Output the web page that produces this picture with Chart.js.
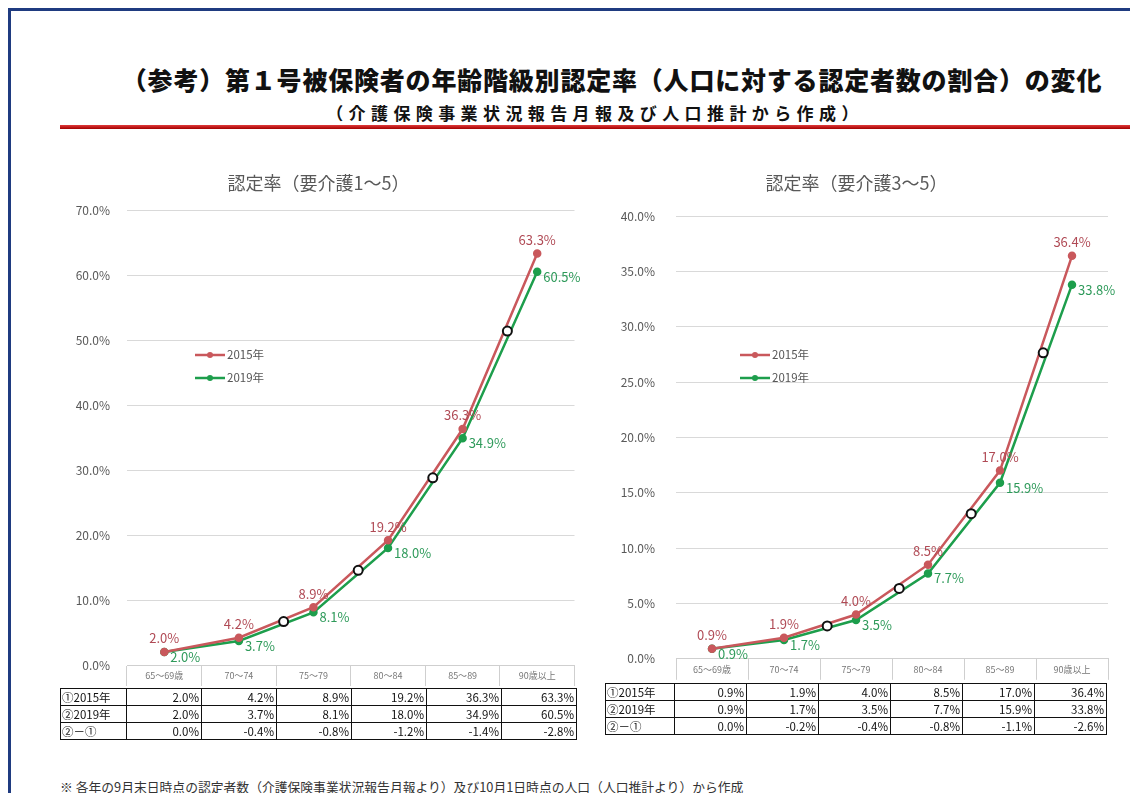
<!DOCTYPE html>
<html lang="ja">
<head>
<meta charset="utf-8">
<script src="https://cdn.jsdelivr.net/npm/chart.js@4.4.1/dist/chart.umd.min.js"></script>
<style>
  body { margin: 0; width: 1130px; height: 793px; background: #fff; position: relative; overflow: hidden;
         font-family: "Noto Sans CJK JP", sans-serif; }
  .frame { position: absolute; left: 8px; top: 8px; width: 1300px; height: 900px;
           border-left: 3px solid #1f3b80; border-top: 3px solid #1f3b80; }
  .title { position: absolute; left: 0; width: 1224px; top: 61px; text-align: center;
           font-size: 25px; font-weight: 900; color: #111; white-space: nowrap; letter-spacing: 0.8px; }
  .subtitle { position: absolute; left: 0; width: 1190px; top: 100px; text-align: center;
              font-size: 17px; font-weight: bold; color: #111; letter-spacing: 5.4px; white-space: nowrap; }
  .redline { position: absolute; left: 60px; top: 125px; width: 1080px; height: 4px;
             background: linear-gradient(#e03a3a, #a30000); }
  .box { position: absolute; }
  table.data { position: absolute; border-collapse: collapse; font-size: 11.5px; color: #111; }
  table.data td { border: 1.5px solid #111; height: 16px; padding: 0 2px; text-align: right; line-height: 16px; }
  table.data td.lab { text-align: left; padding-left: 1px; }
  .note { position: absolute; left: 60px; top: 777px; font-size: 12.8px; color: #333; white-space: nowrap; }
</style>
</head>
<body>
<div class="frame"></div>
<div class="title">（参考）第１号被保険者の年齢階級別認定率（人口に対する認定者数の割合）の変化</div>
<div class="subtitle">（介護保険事業状況報告月報及び人口推計から作成）</div>
<div class="redline"></div>

<div class="box" style="left:60px; top:160px; width:520px; height:530px;"><canvas id="chartAll"></canvas></div>
<div class="box" style="left:605px; top:160px; width:525px; height:527px;"><canvas id="chartSevere"></canvas></div>

<table class="data" id="tableAll" style="left:60px; top:688px;"></table>
<table class="data" id="tableSevere" style="left:605px; top:683px;"></table>

<div class="note">※ 各年の9月末日時点の認定者数（介護保険事業状況報告月報より）及び10月1日時点の人口（人口推計より）から作成</div>

<script>
const ageGroups = ['65～69歳', '70～74', '75～79', '80～84', '85～89', '90歳以上'];
const seriesNames = ['2015年', '2019年'];
const rowLabels = ['①2015年', '②2019年', '②－①'];

// 要介護1～5
const all2015 = [2.0, 4.2, 8.9, 19.2, 36.3, 63.3];
const all2019 = [2.0, 3.7, 8.1, 18.0, 34.9, 60.5];
const allDiff = [0.0, -0.4, -0.8, -1.2, -1.4, -2.8];
const allTicks = [0, 10, 20, 30, 40, 50, 60, 70];

// 要介護3～5
const severe2015 = [0.9, 1.9, 4.0, 8.5, 17.0, 36.4];
const severe2019 = [0.9, 1.7, 3.5, 7.7, 15.9, 33.8];
const severeDiff = [0.0, -0.2, -0.4, -0.8, -1.1, -2.6];
const severeTicks = [0, 5, 10, 15, 20, 25, 30, 35, 40];

const FONT = '"Noto Sans CJK JP", sans-serif';
const RED = '#c9585c';
const GREEN = '#1d9e4c';

const valueLabels = {
    id: 'valueLabels',
    afterDatasetsDraw(chart) {
        const ctx = chart.ctx;
        ctx.save();
        ctx.font = '13px ' + FONT;
        chart.data.datasets.forEach((ds, di) => {
            chart.getDatasetMeta(di).data.forEach((pt, i) => {
                const txt = ds.data[i].toFixed(1) + '%';
                ctx.fillStyle = ds.labelColor;
                if (di === 0) {
                    ctx.textAlign = 'center';
                    ctx.textBaseline = 'bottom';
                    ctx.fillText(txt, pt.x, pt.y - 7);
                } else {
                    ctx.textAlign = 'left';
                    ctx.textBaseline = 'middle';
                    ctx.fillText(txt, pt.x + 6, pt.y + 5);
                }
            });
        });
        ctx.restore();
    }
};

// white markers between the two lines
const gapMarkers = {
    id: 'gapMarkers',
    afterDatasetsDraw(chart) {
        const a = chart.getDatasetMeta(0).data;
        const b = chart.getDatasetMeta(1).data;
        const ctx = chart.ctx;
        ctx.save();
        for (let i = 1; i < a.length - 1; i++) {
            const t = 0.6;
            const x0 = (a[i].x + b[i].x) / 2, y0 = (a[i].y + b[i].y) / 2;
            const x1 = (a[i + 1].x + b[i + 1].x) / 2, y1 = (a[i + 1].y + b[i + 1].y) / 2;
            ctx.beginPath();
            ctx.arc(x0 + (x1 - x0) * t, y0 + (y1 - y0) * t, 4.5, 0, Math.PI * 2);
            ctx.fillStyle = '#fff';
            ctx.fill();
            ctx.lineWidth = 2;
            ctx.strokeStyle = '#111';
            ctx.stroke();
        }
        ctx.restore();
    }
};

const inlineLegend = {
    id: 'inlineLegend',
    afterDraw(chart, args, opts) {
        const ctx = chart.ctx;
        const area = chart.chartArea;
        ctx.save();
        ctx.font = '11.5px ' + FONT;
        ctx.textBaseline = 'middle';
        ctx.textAlign = 'left';
        chart.data.datasets.forEach((ds, di) => {
            const x = area.left + opts.dx;
            const y = area.top + opts.dy + di * 23;
            ctx.strokeStyle = ds.borderColor;
            ctx.lineWidth = 2.5;
            ctx.beginPath();
            ctx.moveTo(x, y);
            ctx.lineTo(x + 30, y);
            ctx.stroke();
            ctx.fillStyle = ds.borderColor;
            ctx.beginPath();
            ctx.arc(x + 15, y, 3, 0, Math.PI * 2);
            ctx.fill();
            ctx.fillStyle = '#555';
            ctx.fillText(ds.label, x + 32, y);
        });
        ctx.restore();
    }
};

function makeChart(id, title, s2015, s2019, ticks, yWidth, tickPad, titlePadBottom, padRight, legendPos) {
    const ctx = document.getElementById(id).getContext('2d');
    return new Chart(ctx, {
        type: 'line',
        data: {
            labels: ageGroups,
            datasets: [
                {
                    label: seriesNames[0],
                    data: s2015,
                    borderColor: RED,
                    backgroundColor: RED,
                    labelColor: '#b04a55',
                    borderWidth: 2.5,
                    pointRadius: 3,
                    pointHoverRadius: 3,
                },
                {
                    label: seriesNames[1],
                    data: s2019,
                    borderColor: GREEN,
                    backgroundColor: GREEN,
                    labelColor: '#2e9a5a',
                    borderWidth: 2.5,
                    pointRadius: 3,
                    pointHoverRadius: 3,
                },
            ],
        },
        options: {
            responsive: true,
            maintainAspectRatio: false,
            animation: false,
            layout: { padding: { left: 0, right: padRight, top: 0, bottom: 3 } },
            plugins: {
                legend: { display: false },
                tooltip: { enabled: false },
                title: {
                    display: true,
                    text: title,
                    color: '#595959',
                    font: { family: FONT, size: 18, weight: 'normal' },
                    padding: { top: 12, bottom: titlePadBottom },
                },
                inlineLegend: legendPos,
            },
            scales: {
                x: {
                    offset: true,
                    grid: { offset: true, drawOnChartArea: false, tickLength: 21, color: '#cfcfcf' },
                    border: { color: '#cfcfcf' },
                    ticks: { color: '#777', font: { family: FONT, size: 9 }, padding: -16, maxRotation: 0, autoSkip: false },
                    afterFit(scale) { scale.height = 22; },
                },
                y: {
                    min: ticks[0],
                    max: ticks[ticks.length - 1],
                    afterBuildTicks(scale) { scale.ticks = ticks.map(v => ({ value: v })); },
                    grid: { color: '#d9d9d9', drawTicks: false },
                    border: { display: false },
                    ticks: {
                        color: '#595959',
                        font: { family: FONT, size: 12 },
                        padding: tickPad,
                        callback: v => v.toFixed(1) + '%',
                    },
                    afterFit(scale) { scale.width = yWidth; },
                },
            },
        },
        plugins: [valueLabels, gapMarkers, inlineLegend],
    });
}

function fillTable(id, rows, widths) {
    const table = document.getElementById(id);
    rows.forEach((vals, r) => {
        const tr = document.createElement('tr');
        const lab = document.createElement('td');
        lab.className = 'lab';
        lab.textContent = rowLabels[r];
        lab.style.width = (widths[0] - 5) + 'px';
        tr.appendChild(lab);
        vals.forEach(v => {
            const td = document.createElement('td');
            td.textContent = v.toFixed(1) + '%';
            td.style.width = (widths[1] - 5) + 'px';
            tr.appendChild(td);
        });
        table.appendChild(tr);
    });
}

makeChart('chartAll', '認定率（要介護1～5）', all2015, all2019, allTicks, 67, 17, 16.4, 3, { dx: 68, dy: 145 });
makeChart('chartSevere', '認定率（要介護3～5）', severe2015, severe2019, severeTicks, 71, 21, 22.4, 22, { dx: 64, dy: 139 });
fillTable('tableAll', [all2015, all2019, allDiff], [67, 75]);
fillTable('tableSevere', [severe2015, severe2019, severeDiff], [70, 72]);
</script>
</body>
</html>
